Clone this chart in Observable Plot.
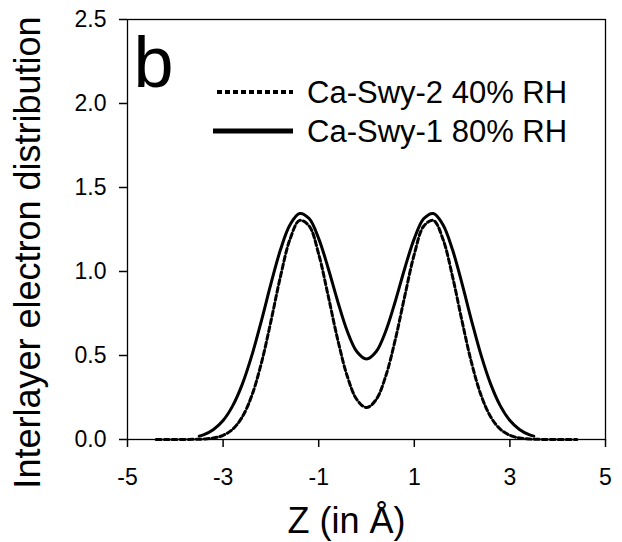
<!DOCTYPE html>
<html>
<head>
<meta charset="utf-8">
<script src="https://cdn.jsdelivr.net/npm/d3@7"></script>
<script src="https://cdn.jsdelivr.net/npm/@observablehq/plot@0.6"></script>
<style>
  html, body { margin: 0; padding: 0; background: #fff; }
  #chart { width: 622px; height: 542px; }
</style>
</head>
<body>
<div id="chart"></div>
<script>
// ---- data ----
const seriesLabels = ["Ca-Swy-2 40% RH", "Ca-Swy-1 80% RH"];
const panelLetter = "b";
const xLabel = "Z (in Å)";
const yLabel = "Interlayer electron distribution";
const xTicks = [-5, -3, -1, 1, 3, 5];
const yTicks = [0, 0.5, 1.0, 1.5, 2.0, 2.5];

// Ca-Swy-1 80% RH (solid)
const zSolid = [-3.5, -3.4, -3.2, -3.0, -2.8, -2.6, -2.4, -2.2, -2.0, -1.8, -1.6, -1.4, -1.2, -1.0, -0.8, -0.6, -0.4, -0.2, 0,
                0.2, 0.4, 0.6, 0.8, 1.0, 1.2, 1.4, 1.6, 1.8, 2.0, 2.2, 2.4, 2.6, 2.8, 3.0, 3.2, 3.4, 3.5];
const solid80 = [0.020, 0.029, 0.060, 0.113, 0.200, 0.328, 0.499, 0.705, 0.926, 1.129, 1.278, 1.345, 1.315, 1.196, 1.018, 0.820, 0.643, 0.522, 0.479,
                 0.522, 0.643, 0.820, 1.018, 1.196, 1.315, 1.345, 1.278, 1.129, 0.926, 0.705, 0.499, 0.328, 0.200, 0.113, 0.060, 0.029, 0.020];

// Ca-Swy-2 40% RH (dashed)
const zDashed = [-4.4, -4.2, -4.0, -3.8, -3.6, -3.4, -3.2, -3.0, -2.8, -2.6, -2.4, -2.2, -2.0, -1.8, -1.6, -1.4, -1.2, -1.0, -0.8, -0.6, -0.4, -0.2, 0,
                 0.2, 0.4, 0.6, 0.8, 1.0, 1.2, 1.4, 1.6, 1.8, 2.0, 2.2, 2.4, 2.6, 2.8, 3.0, 3.2, 3.4, 3.6, 3.8, 4.0, 4.2, 4.4];
const dashed40 = [0, 0, 0, 0, 0.001, 0.003, 0.009, 0.025, 0.061, 0.134, 0.261, 0.454, 0.703, 0.970, 1.192, 1.304, 1.271, 1.103, 0.853, 0.592, 0.375, 0.237, 0.190,
                  0.237, 0.375, 0.592, 0.853, 1.103, 1.271, 1.304, 1.192, 0.970, 0.703, 0.454, 0.261, 0.134, 0.061, 0.025, 0.009, 0.003, 0.001, 0, 0, 0, 0];

// ---- tables built from the arrays ----
const solidData = zSolid.map((z, i) => ({z, v: solid80[i]}));
const dashedData = zDashed.map((z, i) => ({z, v: dashed40[i]}));

const font = "'Liberation Sans', Arial, Helvetica, sans-serif";
const mLeft = 127, mTop = 19, mRight = 17, mBottom = 103;

const plot = Plot.plot({
  width: 622,
  height: 542,
  marginLeft: mLeft,
  marginRight: mRight,
  marginTop: mTop,
  marginBottom: mBottom,
  style: {fontFamily: font, background: "#fff", color: "#000", overflow: "visible"},
  x: {domain: [-5, 5]},
  y: {domain: [0, 2.5]},
  marks: [
    Plot.frame({stroke: "#000", strokeWidth: 1.3}),
    Plot.axisX({ticks: xTicks, tickSize: 8, tickPadding: 21, fontSize: 23, strokeWidth: 1.5,
                tickFormat: d => String(d), label: null}),
    Plot.axisY({ticks: yTicks, tickSize: 8, tickPadding: 13, fontSize: 23, strokeWidth: 1.5,
                tickFormat: d => d.toFixed(1), label: null}),
    Plot.line(dashedData, {x: "z", y: "v", curve: "catmull-rom", stroke: "#000", strokeWidth: 3,
                           strokeDasharray: "5,3"}),
    Plot.line(solidData, {x: "z", y: "v", curve: "catmull-rom", stroke: "#000", strokeWidth: 3}),
    Plot.text([panelLetter], {frameAnchor: "top-left", text: d => d, textAnchor: "start", lineAnchor: "top",
                              dx: 6, dy: 16, fontSize: 72, fill: "#000"}),
    Plot.text([xLabel], {frameAnchor: "bottom", text: d => d, lineAnchor: "middle",
                         dx: -20, dy: 81.5, fontSize: 36, fill: "#000"}),
    Plot.text([yLabel], {frameAnchor: "left", text: d => d, rotate: -90, textAnchor: "middle", lineAnchor: "middle",
                         dx: -99, dy: 23, fontSize: 36, fill: "#000"})
  ]
});

// ---- legend drawn inside the frame ----
const svg = d3.select(plot);
const legend = svg.append("g").attr("font-family", font).attr("font-size", 31).attr("text-anchor", "start");
const legendRows = [
  {label: seriesLabels[0], dash: "5,3", width: 4, x1: 217, y: 92},
  {label: seriesLabels[1], dash: null, width: 5, x1: 213, y: 131}
];
legendRows.forEach(r => {
  legend.append("line")
    .attr("x1", r.x1).attr("x2", 293).attr("y1", r.y).attr("y2", r.y)
    .attr("stroke", "#000").attr("stroke-width", r.width)
    .attr("stroke-dasharray", r.dash);
  legend.append("text")
    .attr("x", 307).attr("y", r.y).attr("dy", "0.36em")
    .attr("text-anchor", "start")
    .attr("fill", "#000").text(r.label);
});

document.getElementById("chart").appendChild(plot);
</script>
</body>
</html>
